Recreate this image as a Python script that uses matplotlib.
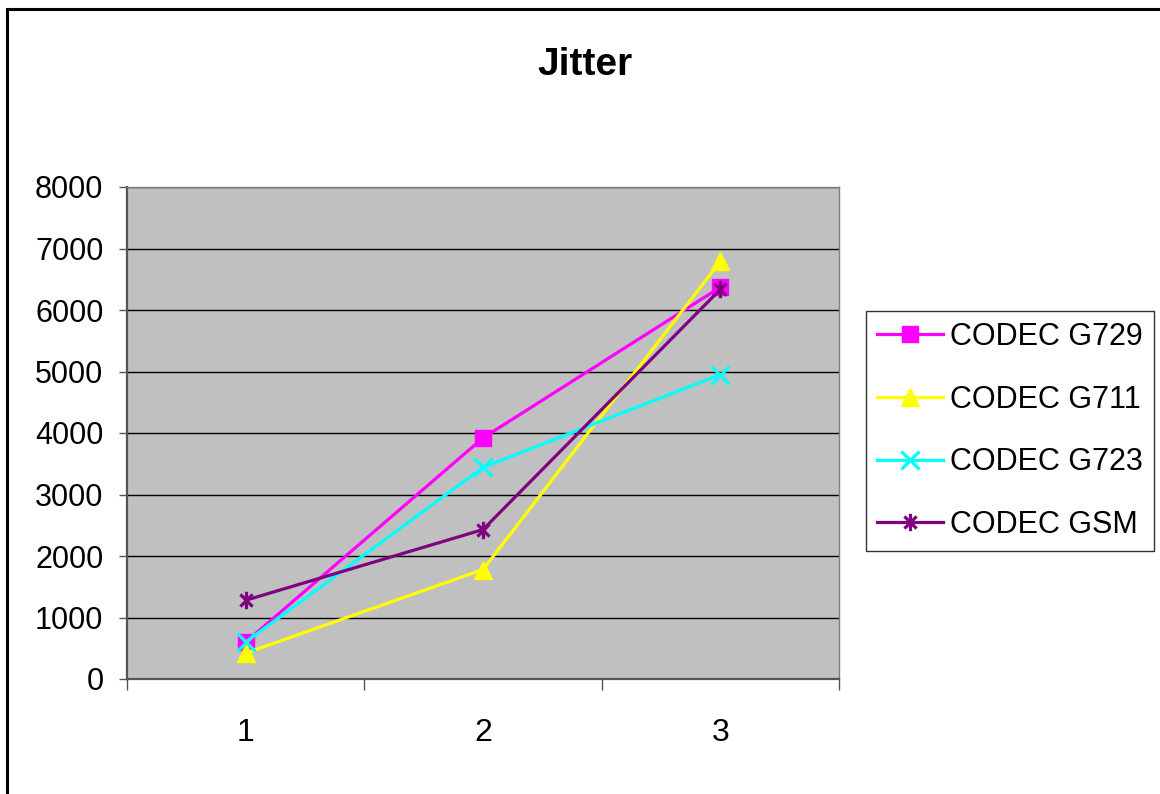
import matplotlib.pyplot as plt
from matplotlib.path import Path
from matplotlib.patches import Rectangle

plt.rcParams['font.family'] = ['Liberation Sans', 'DejaVu Sans']

# Datos de jitter por codec
pruebas = [1, 2, 3]
g729 = [600, 3920, 6370]
g711 = [420, 1780, 6790]
g723 = [600, 3440, 4950]
gsm = [1280, 2430, 6335]
etiquetas = ['CODEC G729', 'CODEC G711', 'CODEC G723', 'CODEC GSM']
y_ticks = [0, 1000, 2000, 3000, 4000, 5000, 6000, 7000, 8000]

# Marcador tipo asterisco (X con barra vertical)
asterisco = Path([(0, -1), (0, 1), (-0.7, -0.7), (0.7, 0.7), (-0.7, 0.7), (0.7, -0.7)],
                 [Path.MOVETO, Path.LINETO, Path.MOVETO, Path.LINETO, Path.MOVETO, Path.LINETO])

W, H = 1160, 794
fig = plt.figure(figsize=(W / 100, H / 100), dpi=100)

# Marco exterior del grafico
fig.patches.append(Rectangle((7 / W, -0.1), 1.2, 1 - 9 / H + 0.1, transform=fig.transFigure,
                             fill=False, edgecolor='black', linewidth=2.2, clip_on=False))

ax = fig.add_axes([127 / W, 1 - 679 / H, (839 - 127) / W, (679 - 187) / H])
ax.set_facecolor('#C0C0C0')

ax.plot(pruebas, g729, color='#FF00FF', lw=2.3, marker='s', ms=11, label=etiquetas[0], zorder=3)
ax.plot(pruebas, g711, color='#FFFF00', lw=2.3, marker='^', ms=13, label=etiquetas[1], zorder=3)
ax.plot(pruebas, g723, color='#00FFFF', lw=2.3, marker='x', ms=12.5, mew=2.3, label=etiquetas[2], zorder=3)
ax.plot(pruebas, gsm, color='#800080', lw=2.3, marker=asterisco, ms=12.5, mew=2.3, label=etiquetas[3], zorder=3)

ax.set_xlim(0.5, 3.5)
ax.set_ylim(0, 8000)
ax.set_yticks(y_ticks)
ax.yaxis.grid(True, color='black', lw=1)
ax.set_axisbelow(True)

# Marcas en los limites de categoria, etiquetas en el centro
ax.set_xticks([0.5, 1.5, 2.5, 3.5])
ax.set_xticklabels([])
ax.set_xticks(pruebas, minor=True)
ax.set_xticklabels([str(p) for p in pruebas], minor=True)
ax.tick_params(axis='x', which='major', length=8, width=1, color='#555555')
ax.tick_params(axis='x', which='minor', length=0, pad=28, labelsize=23)
ax.tick_params(axis='y', length=6, width=1, color='#555555', pad=11, labelsize=22)

for s in ['top', 'right']:
    ax.spines[s].set_color('#808080')
    ax.spines[s].set_linewidth(1)
for s in ['left', 'bottom']:
    ax.spines[s].set_color('#555555')
    ax.spines[s].set_linewidth(1.6)

fig.text(585 / W, 1 - 65 / H, 'Jitter', ha='center', va='center', fontsize=28, fontweight='bold')

leg = fig.legend(loc='center left', bbox_to_anchor=(866 / W, 1 - 431 / H), fontsize=22,
                 frameon=True, fancybox=False, handlelength=2.15, handletextpad=0.25,
                 labelspacing=1.07, borderpad=0.36, borderaxespad=0)
leg.get_frame().set_edgecolor('black')
leg.get_frame().set_linewidth(1)

fig.savefig('out.png', dpi=100)
